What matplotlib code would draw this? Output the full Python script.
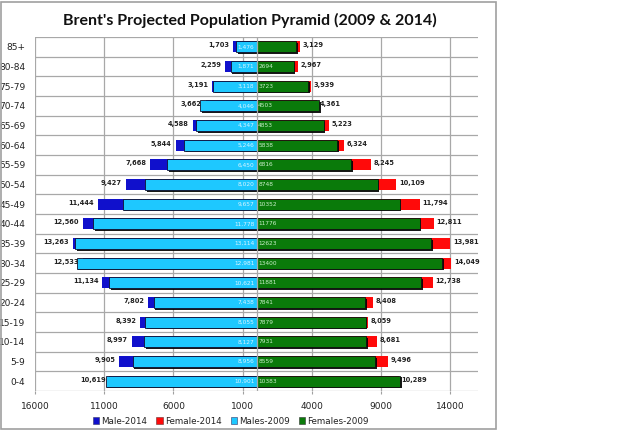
import matplotlib
matplotlib.use("Agg")
import matplotlib.pyplot as plt
from matplotlib.patches import Patch, Rectangle
from matplotlib import patheffects as pe


AGE_GROUPS = ["0-4", "5-9", "10-14", "15-19", "20-24", "25-29", "30-34", "35-39",
              "40-44", "45-49", "50-54", "55-59", "60-64", "65-69", "70-74", "75-79",
              "80-84", "85+"]

MALE_2014 = [10619, 9905, 8997, 8392, 7802, 11134, 12533, 13263, 12560, 11444,
             9427, 7668, 5844, 4588, 3662, 3191, 2259, 1703]
FEMALE_2014 = [10289, 9496, 8681, 8059, 8408, 12738, 14049, 13981, 12811, 11794,
               10109, 8245, 6324, 5223, 4361, 3939, 2967, 3129]
MALES_2009 = [10901, 8956, 8127, 8055, 7438, 10621, 12981, 13114, 11778, 9657,
              8020, 6450, 5246, 4347, 4046, 3118, 1871, 1476]
FEMALES_2009 = [10383, 8559, 7931, 7879, 7841, 11881, 13400, 12623, 11776, 10352,
                8748, 6816, 5838, 4853, 4503, 3723, 2694, 2862]

X_TICKS = [-16000, -11000, -6000, -1000, 4000, 9000, 14000]

C_M14 = "#1010cc"
C_F14 = "#ff0a0a"
C_M09 = "#1ec8ff"
C_F09 = "#0a7a0a"


def main():
    fig = plt.figure(figsize=(6.17, 4.34), dpi=100)
    ax = fig.add_axes([35 / 617, 1 - 391 / 434, 443 / 617, 354 / 434])

    y = list(range(len(AGE_GROUPS)))
    h = 0.55
    shadow = [pe.SimplePatchShadow(offset=(1.2, -1.2), shadow_rgbFace="black", alpha=0.9),
              pe.Normal()]

    ax.barh(y, [-v for v in MALE_2014], height=h, color=C_M14, zorder=2)
    ax.barh(y, FEMALE_2014, height=h, color=C_F14, zorder=2)
    ax.barh(y, [-v for v in MALES_2009], height=h, color=C_M09, edgecolor="#101030",
            linewidth=0.6, zorder=3, path_effects=shadow)
    ax.barh(y, FEMALES_2009, height=h, color=C_F09, edgecolor="#101010",
            linewidth=0.6, zorder=3, path_effects=shadow)

    for i in y:
        ax.text(-MALE_2014[i] - 280, i + 0.08, f"{MALE_2014[i]:,}", ha="right", va="center",
                fontsize=4.8, fontweight="bold", color="#222222", zorder=5)
        ax.text(FEMALE_2014[i] + 200, i + 0.08, f"{FEMALE_2014[i]:,}", ha="left", va="center",
                fontsize=4.8, fontweight="bold", color="#222222", zorder=5)
        ax.text(-150, i, f"{MALES_2009[i]:,}", ha="right", va="center",
                fontsize=4.2, color="#d8f4ff", zorder=5)
        if AGE_GROUPS[i] != "85+":
            ax.text(120, i, f"{FEMALES_2009[i]}", ha="left", va="center",
                    fontsize=4.2, color="#c8eec8", zorder=5)

    ax.set_xlim(-16000, 16000)
    ax.set_ylim(-0.5, len(AGE_GROUPS) - 0.5)
    ax.set_xticks(X_TICKS)
    ax.set_xticklabels([str(abs(t)) for t in X_TICKS], fontsize=6.5, color="#222222")
    ax.set_yticks(y)
    ax.set_yticklabels(AGE_GROUPS, fontsize=6.5, color="#222222")
    ax.tick_params(axis="x", length=2, color="#a0a0a0", pad=6)
    ax.tick_params(axis="y", length=0, pad=7)

    for t in X_TICKS:
        ax.axvline(t, color="#a8a8a8", linewidth=0.9, zorder=1)
    ax.axvline(0, color="#a8a8a8", linewidth=0.9, zorder=4)
    for k in range(len(AGE_GROUPS) + 1):
        ax.axhline(k - 0.5, color="#a8a8a8", linewidth=0.9, zorder=1)
    for s in ax.spines.values():
        s.set_visible(False)

    fig.text(250 / 617, 1 - 20 / 434, "Brent's Projected Population Pyramid (2009 & 2014)",
             ha="center", va="center", fontsize=11.5, fontweight="bold",
             family="Lato", color="#111111")

    handles = [Patch(facecolor=C_M14, edgecolor="#333366", linewidth=0.4),
               Patch(facecolor=C_F14, edgecolor="#663333", linewidth=0.4),
               Patch(facecolor=C_M09, edgecolor="#333366", linewidth=0.4),
               Patch(facecolor=C_F09, edgecolor="#333333", linewidth=0.4)]
    fig.legend(handles, ["Male-2014", "Female-2014", "Males-2009", "Females-2009"],
               loc="center", bbox_to_anchor=(231 / 617, 1 - 421 / 434), ncol=4,
               frameon=False, fontsize=6.3, handlelength=0.7, handleheight=0.7,
               handletextpad=0.3, columnspacing=1.0, labelcolor="#222222")

    fig.patches.append(Rectangle((1 / 617, 1 - 429 / 434), 495 / 617, 427 / 434,
                                 transform=fig.transFigure, fill=False,
                                 edgecolor="#a0a0a0", linewidth=1.2))

    fig.savefig("out.png", dpi=100)
    plt.close(fig)


if __name__ == "__main__":
    main()
